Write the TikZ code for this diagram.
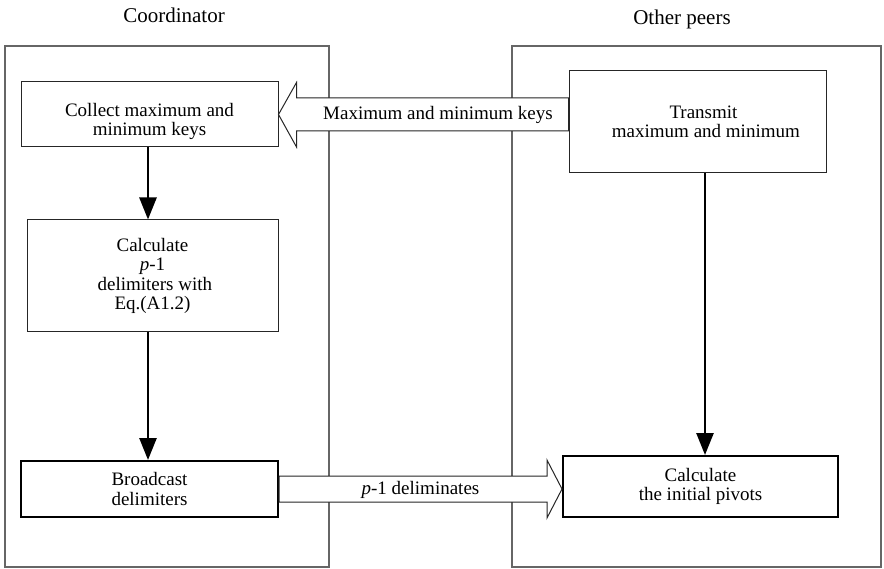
\documentclass[tikz,border=0pt]{standalone}
\usepackage{fontspec}
\setmainfont{Liberation Serif}
\usepackage{tikz}
\usetikzlibrary{positioning,arrows.meta,calc}
\tikzset{
  panel/.style={draw=black!60,line width=1.3pt},
  ttl/.style={font=\fontsize{21}{24}\selectfont,inner sep=0pt},
  stepbox/.style={draw=black!85,line width=1pt,fill=white,align=center,
    font=\fontsize{19}{19.5}\selectfont,inner sep=0pt},
  sendbox/.style={stepbox,draw=black,line width=2pt},
  boxtxt/.style={align=center,font=\fontsize{19}{19}\selectfont,inner sep=0pt},
  flow/.style={-{Triangle[length=22pt,width=17pt]},line width=2.6pt},
  fatarr/.style={draw=black!85,line width=1pt,fill=white,line join=miter},
  arrlbl/.style={font=\fontsize{19}{22}\selectfont,inner sep=0pt},
}
\begin{document}
\begin{tikzpicture}[x=1pt,y=-1pt]
  \useasboundingbox (0,0) rectangle (884,569);
  % two columns
  \draw[panel] (5,46) rectangle (329,567);
  \draw[panel] (512,46) rectangle (881,567);
  \node[ttl] (tcoord) at (174,15) {Coordinator};
  \node[ttl] (tpeers) at (682,19) {Other peers};
  % coordinator steps
  \node[stepbox,minimum width=257pt,minimum height=65pt] (coll) at (149.5,114.5) {};
  \node[boxtxt,yshift=-7pt] (colltxt) at (coll) {Collect maximum and\\minimum keys};
  \node[stepbox,minimum width=251pt,minimum height=112pt] (calc) at (152.5,276)
    {Calculate\\\textit{p}-1\\\ delimiters with\\Eq.(A1.2)};
  \node[sendbox,minimum width=257pt,minimum height=56pt] (bcast) at (149.5,489)
    {Broadcast\\delimiters};
  % peer steps
  \node[stepbox,minimum width=257pt,minimum height=102pt] (trans) at (697.5,122) {};
  \node[boxtxt,xshift=6pt] (transtxt) at (trans) {Transmit\\\ maximum and minimum};
  \node[sendbox,minimum width=275pt,minimum height=61pt] (piv) at (700.5,486.5)
    {Calculate\\the initial pivots};
  % vertical flow
  \draw[flow] (coll.south -| 148,0) -- (calc.north -| 148,0);
  \draw[flow] (calc.south -| 148,0) -- (bcast.north -| 148,0);
  \draw[flow] (trans.south -| 705,0) -- (piv.north -| 705,0);
  % hollow arrow: peers -> coordinator
  \draw[fatarr] (coll.east)
    -- ++(18,-32) -- ++(0,15.5) -- ($(coll.east -| trans.west)+(0,-16.5)$)
    -- ($(coll.east -| trans.west)+(0,16.5)$) -- ($(coll.east)+(18,16.5)$)
    -- ++(0,16) -- cycle;
  \node[arrlbl] (maxkeys) at ($(coll.east)!0.55!(coll.east -| trans.west)$)
    {Maximum and minimum keys};
  % hollow arrow: coordinator -> peers
  \draw[fatarr] ($(bcast.east)+(0,-13)$) -- ($(bcast.east -| piv.west)+(-15,-13)$)
    -- ++(0,-16) -- (bcast.east -| piv.west) -- ++(-15,29)
    -- ++(0,-16) -- ($(bcast.east)+(0,13)$) -- cycle;
  \node[arrlbl] (delims) at ($(bcast.east)!0.5!(bcast.east -| piv.west)+(0,1)$)
    {\textit{p}-1 deliminates};
\end{tikzpicture}
\end{document}
